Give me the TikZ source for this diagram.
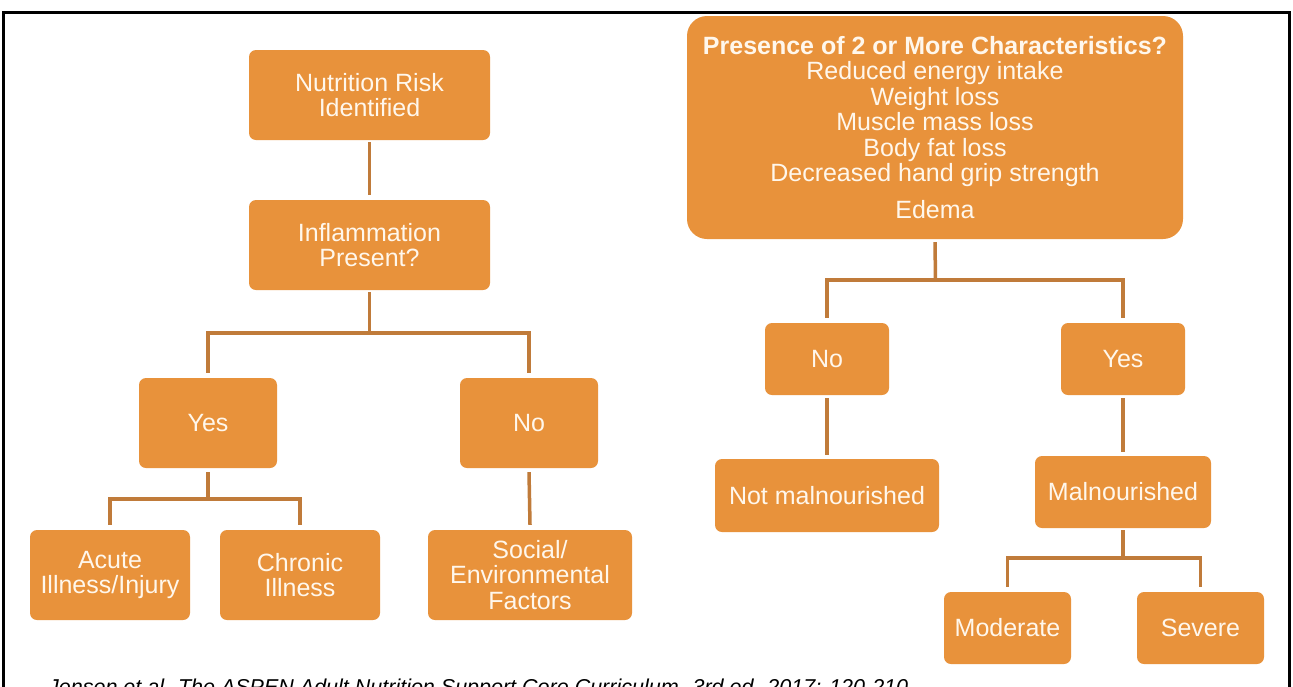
\documentclass[tikz,border=0pt]{standalone}
\usepackage{fontspec}
\setmainfont{Liberation Sans}
\definecolor{boxfill}{HTML}{E8923B}
\definecolor{linecol}{HTML}{C07B3A}
\definecolor{txtcol}{HTML}{FFF7EC}
\tikzset{
  box/.style={draw=none, fill=boxfill, rounded corners=7pt, text=txtcol, align=center,
    font=\fontsize{25}{25.5}\selectfont, inner sep=0pt, anchor=center},
  conn/.style={draw=linecol, line width=3.5pt, line join=miter},
}
\begin{document}
\begin{tikzpicture}[x=1pt,y=-1pt]
\useasboundingbox (0,0) rectangle (1293,686);
\fill[white] (0,0) rectangle (1293,686);
% frame
\draw[black, line width=3pt] (3,690) -- (3,12) -- (1289,12) -- (1289,690);

% left tree
\node[box, minimum width=241pt, minimum height=90pt] (nri) at (369.5,95) {Nutrition Risk\\Identified};
\node[box, minimum width=241pt, minimum height=90pt] (inf) at (369.5,245) {Inflammation\\Present?};
\node[box, minimum width=138pt, minimum height=90pt] (yesL) at (208,423) {Yes};
\node[box, minimum width=138pt, minimum height=90pt] (noL) at (529,423) {No};
\node[box, minimum width=160pt, minimum height=90pt] (acute) at (110,575) {Acute\\Illness/Injury};
\node[box, minimum width=160pt, minimum height=90pt] (chronic) at (300,575) {Chronic\\Illness};
\node[box, minimum width=204pt, minimum height=90pt] (social) at (530,575) {Social/\\Environmental\\Factors};

\coordinate (j1) at (369.5,333);
\coordinate (j2) at (208,499);

\draw[conn] ([yshift=-2pt]nri.south) -- ([yshift=5pt]inf.north);
\draw[conn] ([yshift=-2pt]inf.south) -- (j1);
\draw[conn] ([yshift=5pt]yesL.north) |- (j1) -| ([yshift=5pt]noL.north);
\draw[conn] ([yshift=-4pt]yesL.south) -- (j2);
\draw[conn] ([yshift=5pt]acute.north) |- (j2) -| ([yshift=5pt]chronic.north);
\draw[conn] ([yshift=-4pt]noL.south) -- ([yshift=5pt]social.north);

% right tree
\node[box, rounded corners=20pt, minimum width=496pt, minimum height=223pt] (big) at (935,127.5)
  {\textbf{Presence of 2 or More Characteristics?}\\
   Reduced energy intake\\
   Weight loss\\
   Muscle mass loss\\
   Body fat loss\\
   Decreased hand grip strength\\[11pt]
   Edema};
\node[box, minimum width=124pt, minimum height=72pt] (noR) at (827,359) {No};
\node[box, minimum width=124pt, minimum height=72pt] (yesR) at (1123,359) {Yes};
\node[box, minimum width=224pt, minimum height=73pt] (notmal) at (827,495.5) {Not malnourished};
\node[box, minimum width=176pt, minimum height=72pt] (mal) at (1123,492) {Malnourished};
\node[box, minimum width=127pt, minimum height=72pt] (moderate) at (1007.5,628) {Moderate};
\node[box, minimum width=127pt, minimum height=72pt] (severe) at (1200.5,628) {Severe};

\coordinate (j3) at (935.5,280);
\coordinate (j4) at (1123,558);

\draw[conn] ([yshift=-3pt]big.south) -- (j3);
\draw[conn] ([yshift=5pt]noR.north) |- (j3) -| ([yshift=5pt]yesR.north);
\draw[conn] ([yshift=-3pt]noR.south) -- ([yshift=4pt]notmal.north);
\draw[conn] ([yshift=-3pt]yesR.south) -- ([yshift=4pt]mal.north);
\draw[conn] ([yshift=-2pt]mal.south) -- (j4);
\draw[conn] ([yshift=5pt]moderate.north) |- (j4) -| ([yshift=5pt]severe.north);

% citation (cut by the lower edge, as in the reference)
\node[anchor=base west, inner sep=0pt, font=\fontsize{21.5}{23}\selectfont\itshape] (cite) at (48,694)
  {Jensen et al. The ASPEN Adult Nutrition Support Core Curriculum. 3rd ed. 2017: 120-210};
\end{tikzpicture}
\end{document}
